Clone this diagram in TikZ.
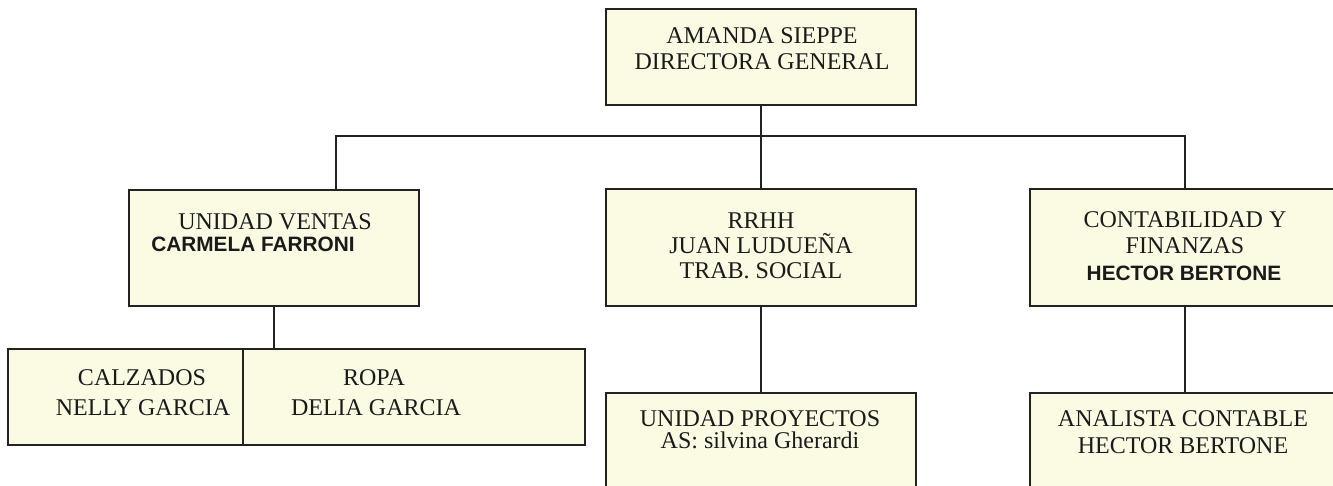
\documentclass[tikz,border=0pt]{standalone}
\usepackage{fontspec}
\setmainfont{Liberation Serif}
\newfontfamily\sansb{Liberation Sans}
\definecolor{boxfill}{HTML}{FBFBE4}
\definecolor{boxline}{HTML}{222222}
\definecolor{txt}{HTML}{1A1A1A}
\begin{document}
\begin{tikzpicture}[x=1pt,y=-1pt,
  box/.style={draw=boxline, line width=1.3pt, fill=boxfill, rectangle, inner sep=0pt},
  lbl/.style={anchor=base, inner sep=0pt, text=txt, font=\fontsize{24}{26}\selectfont},
  bl/.style={anchor=base, inner sep=0pt, text=txt, font=\fontsize{20.8}{22}\sansb\bfseries},
  conn/.style={draw=boxline, line width=1.3pt}]
\clip (0,0) rectangle (1333,486);
\fill[white] (0,0) rectangle (1333,486);
% boxes
\node[box, minimum width=310pt, minimum height=96pt] (top) at (761,57) {};
\node[box, minimum width=290pt, minimum height=116pt] (ventas) at (274,248) {};
\node[box, minimum width=310pt, minimum height=117pt] (rrhh) at (761,247.5) {};
\node[box, minimum width=310pt, minimum height=117pt] (contab) at (1185,247.5) {};
\node[box, minimum width=235pt, minimum height=96pt] (calz) at (125.5,397) {};
\node[box, minimum width=342pt, minimum height=96pt] (ropa) at (414,397) {};
\node[box, minimum width=310pt, minimum height=127pt] (proy) at (761,456.5) {};
\node[box, minimum width=310pt, minimum height=127pt] (anal) at (1185,456.5) {};
% connectors
\coordinate (hl) at (336,136);
\coordinate (hr) at (1185,136);
\draw[conn] (top.south) -- (rrhh.north);
\draw[conn] (hl |- ventas.north) -- (hl) -- (hr) -- (contab.north);
\draw[conn] (ventas.south) -- (ventas.south |- calz.north);
\draw[conn] (rrhh.south) -- (proy.north);
\draw[conn] (contab.south) -- (anal.north);
% texts
\node[lbl] (t1) at (762,44) {AMANDA SIEPPE};
\node[lbl] (t2) at (762,70) {DIRECTORA GENERAL};
\node[lbl] (v1) at (275,230) {UNIDAD VENTAS};
\node[bl] (v2) at (253,252) {CARMELA FARRONI};
\node[lbl] (r1) at (761,229) {RRHH};
\node[lbl] (r2) at (761,254) {JUAN LUDUEÑA};
\node[lbl] (r3) at (761,279) {TRAB. SOCIAL};
\node[lbl] (c1) at (1185,228) {CONTABILIDAD Y};
\node[lbl] (c2) at (1185,254) {FINANZAS};
\node[bl] (c3) at (1184,280) {HECTOR BERTONE};
\node[lbl] (ca1) at (142,385) {CALZADOS};
\node[lbl] (ca2) at (143,415) {NELLY GARCIA};
\node[lbl] (ro1) at (374,385) {ROPA};
\node[lbl] (ro2) at (376,415) {DELIA GARCIA};
\node[lbl] (p1) at (760,426) {UNIDAD PROYECTOS};
\node[lbl] (p2) at (760,448) {AS: silvina Gherardi};
\node[lbl] (a1) at (1183,426) {ANALISTA CONTABLE};
\node[lbl] (a2) at (1183,453) {HECTOR BERTONE};
\end{tikzpicture}
\end{document}
